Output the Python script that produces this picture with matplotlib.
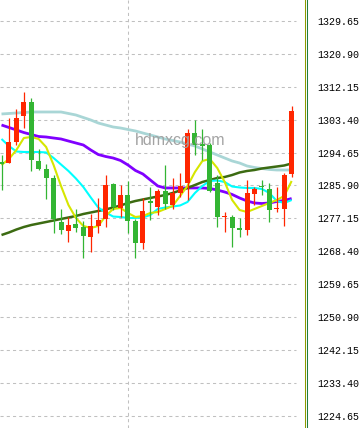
import matplotlib
matplotlib.use('Agg')
import matplotlib.pyplot as plt
from matplotlib.lines import Line2D
from matplotlib.patches import Rectangle

# ---- data ----
opens = [1292.15, 1291.88, 1297.47, 1304.38, 1308.11, 1292.42, 1290.29, 1287.89, 1276.19, 1273.80,
         1275.66, 1274.86, 1272.20, 1275.13, 1276.99, 1286.30, 1279.92, 1283.37, 1276.46, 1270.61,
         1281.78, 1280.18, 1284.44, 1280.71, 1283.91, 1286.56, 1299.86, 1296.90, 1296.67, 1286.56,
         1277.40, 1277.52, 1274.60, 1274.06, 1283.64, 1285.50, 1284.97, 1279.65, 1279.65, 1288.96]
closes = [1291.62, 1297.47, 1303.85, 1308.11, 1292.68, 1290.29, 1287.89, 1276.99, 1274.06, 1275.39,
          1274.60, 1272.47, 1275.13, 1276.72, 1286.03, 1280.18, 1283.37, 1276.46, 1270.61, 1279.12,
          1281.25, 1284.44, 1280.98, 1283.91, 1285.77, 1299.86, 1296.67, 1296.40, 1284.44, 1277.52,
          1277.65, 1274.60, 1274.06, 1283.91, 1284.97, 1285.37, 1279.38, 1279.92, 1288.69, 1305.71]
highs = [1294.01, 1303.85, 1306.25, 1310.77, 1309.17, 1295.61, 1291.62, 1288.69, 1279.65, 1277.52,
         1279.65, 1276.46, 1278.32, 1282.58, 1288.69, 1286.56, 1286.03, 1287.10, 1276.99, 1282.58,
         1285.50, 1284.97, 1291.35, 1287.89, 1289.22, 1300.93, 1303.32, 1300.93, 1297.20, 1288.69,
         1278.85, 1278.05, 1277.26, 1287.36, 1285.50, 1287.36, 1286.56, 1285.50, 1289.22, 1307.04]
lows = [1284.70, 1291.88, 1296.67, 1301.19, 1289.76, 1290.02, 1282.31, 1273.27, 1273.00, 1270.87,
        1273.53, 1266.62, 1268.21, 1273.27, 1274.86, 1279.38, 1277.52, 1273.27, 1266.62, 1269.01,
        1276.72, 1278.05, 1279.65, 1279.65, 1282.84, 1282.04, 1294.01, 1292.68, 1284.17, 1274.86,
        1273.53, 1269.54, 1272.20, 1272.73, 1280.71, 1283.37, 1276.19, 1278.85, 1275.13, 1288.16]

ma_lightblue = [1304.92, 1305.05, 1305.18, 1305.31, 1305.45, 1305.45, 1305.45, 1305.45, 1305.45, 1305.05,
                1304.65, 1303.98, 1303.32, 1302.52, 1301.99, 1301.46, 1301.19, 1300.79, 1300.40, 1299.86,
                1299.33, 1298.80, 1298.27, 1297.87, 1297.47, 1296.94, 1296.40, 1295.61, 1294.81, 1294.01,
                1293.21, 1292.42, 1291.88, 1291.09, 1290.69, 1290.42, 1290.16, 1290.02, 1290.02, 1290.02]
ma_purple = [1301.99, 1301.33, 1300.66, 1299.99, 1299.46, 1298.93, 1298.80, 1298.53, 1298.27, 1297.73,
             1297.20, 1296.67, 1295.34, 1294.14, 1293.61, 1293.21, 1292.55, 1291.35, 1289.89, 1288.96,
             1287.36, 1285.77, 1285.24, 1285.24, 1285.24, 1285.24, 1285.24, 1285.24, 1285.10, 1284.70,
             1284.17, 1283.51, 1282.58, 1281.78, 1281.25, 1281.11, 1281.25, 1281.64, 1281.91, 1282.44]
ma_cyan = [1298.27, 1296.40, 1294.94, 1294.81, 1294.81, 1294.81, 1294.68, 1293.21, 1291.48, 1289.76,
           1287.76, 1285.50, 1282.71, 1280.05, 1278.72, 1277.65, 1277.52, 1277.26, 1277.26, 1277.39,
           1278.05, 1279.65, 1280.05, 1280.31, 1280.58, 1281.51, 1283.91, 1285.77, 1287.10, 1287.23,
           1286.83, 1285.63, 1285.37, 1285.24, 1285.24, 1284.97, 1283.91, 1281.78, 1281.25, 1282.04]
ma_yellow = [1291.35, 1292.95, 1295.34, 1298.53, 1298.80, 1298.27, 1296.14, 1291.35, 1285.77, 1280.71,
             1277.26, 1275.13, 1274.60, 1275.13, 1277.79, 1279.65, 1279.92, 1278.59, 1277.52, 1277.79,
             1278.59, 1278.85, 1279.65, 1280.45, 1283.11, 1285.77, 1289.49, 1292.42, 1292.95, 1290.55,
             1286.83, 1282.04, 1279.38, 1278.85, 1279.65, 1280.45, 1281.25, 1282.04, 1283.11, 1287.10]
ma_darkgreen = [1272.73, 1273.40, 1274.19, 1274.86, 1275.39, 1275.79, 1276.19, 1276.59, 1276.99, 1277.39,
                1277.79, 1278.32, 1278.72, 1279.12, 1279.52, 1280.05, 1280.58, 1281.25, 1281.78, 1282.18,
                1282.58, 1282.97, 1283.37, 1283.91, 1284.57, 1285.24, 1286.03, 1286.83, 1287.36, 1287.89,
                1288.16, 1288.69, 1289.36, 1289.76, 1290.02, 1290.42, 1290.69, 1290.95, 1291.22, 1291.75]

tick_values = [1329.65, 1320.90, 1312.15, 1303.40, 1294.65, 1285.90, 1277.15,
               1268.40, 1259.65, 1250.90, 1242.15, 1233.40, 1224.65]
tick_labels = ["1329.65", "1320.90", "1312.15", "1303.40", "1294.65", "1285.90", "1277.15",
               "1268.40", "1259.65", "1250.90", "1242.15", "1233.40", "1224.65"]
time_grid_index = 17
watermark = "hdmxcg.com"

# ---- layout ----
W, H = 361, 428
fig = plt.figure(figsize=(W / 100, H / 100), dpi=100)
fig.patch.set_facecolor('white')
plot_w = 304
ax = fig.add_axes([0, 0, plot_w / W, 1])
step = 7.44
x0_px = 1.5
ax.set_xlim(-x0_px / step, (plot_w - x0_px) / step)
ax.set_ylim(1221.40, 1335.235)
for s in ax.spines.values():
    s.set_visible(False)

n = len(opens)
xs = list(range(n))

# grid
grid_end = (296 - x0_px) / step
ax.hlines(tick_values, ax.get_xlim()[0], grid_end, colors='#c0c0c0',
          linewidth=0.75, linestyles=(0, (3, 3)), zorder=1)
ax.axvline(time_grid_index, color='#c0c0c0', linewidth=0.75, linestyle=(0, (3, 3)), zorder=1)

# moving averages
ax.plot(xs, ma_lightblue, color='#a9d6d6', lw=2.0, zorder=2, solid_capstyle='butt')
ax.plot(xs, ma_purple, color='#8000ff', lw=2.0, zorder=2, solid_capstyle='butt')
ax.plot(xs, ma_darkgreen, color='#3c6b12', lw=1.8, zorder=2, solid_capstyle='butt')
ax.plot(xs, ma_cyan, color='#00ffff', lw=1.5, zorder=2, solid_capstyle='butt')
ax.plot(xs, ma_yellow, color='#d6e600', lw=1.5, zorder=2, solid_capstyle='butt')

# candles
up_color = '#ff2600'
down_color = '#33b533'
body_w = 5 / step
min_h = 1.0 / 3.76
for i in xs:
    o, h, l, c = opens[i], highs[i], lows[i], closes[i]
    col = up_color if c >= o else down_color
    ax.vlines(i, l, h, colors=col, linewidth=0.9, zorder=3)
    bottom = min(o, c)
    height = max(abs(c - o), min_h)
    ax.add_patch(Rectangle((i - body_w / 2, bottom), body_w, height,
                           facecolor=col, edgecolor='none', zorder=4))

# watermark
ax.text((135 - x0_px) / step, 1296.67, watermark, fontsize=11.5, color='#a3a3a3',
        family=['Liberation Sans', 'DejaVu Sans'], ha='left', va='baseline', zorder=6)

# axes ticks
ax.set_xticks([])
ax.yaxis.tick_right()
ax.set_yticks(tick_values)
ax.set_yticklabels(tick_labels, family=['Liberation Mono', 'DejaVu Sans Mono'])
ax.tick_params(axis='y', length=0, pad=9.3, labelsize=7.2, labelcolor='#000000')

# separator lines at right of plot
fig.add_artist(Line2D([304.5 / W, 304.5 / W], [0, 1], transform=fig.transFigure,
                      color='#8c9a00', lw=0.75))
fig.add_artist(Line2D([306.5 / W, 306.5 / W], [0, 1], transform=fig.transFigure,
                      color='#1f7f3f', lw=0.75))

fig.savefig('out.png', dpi=100)
